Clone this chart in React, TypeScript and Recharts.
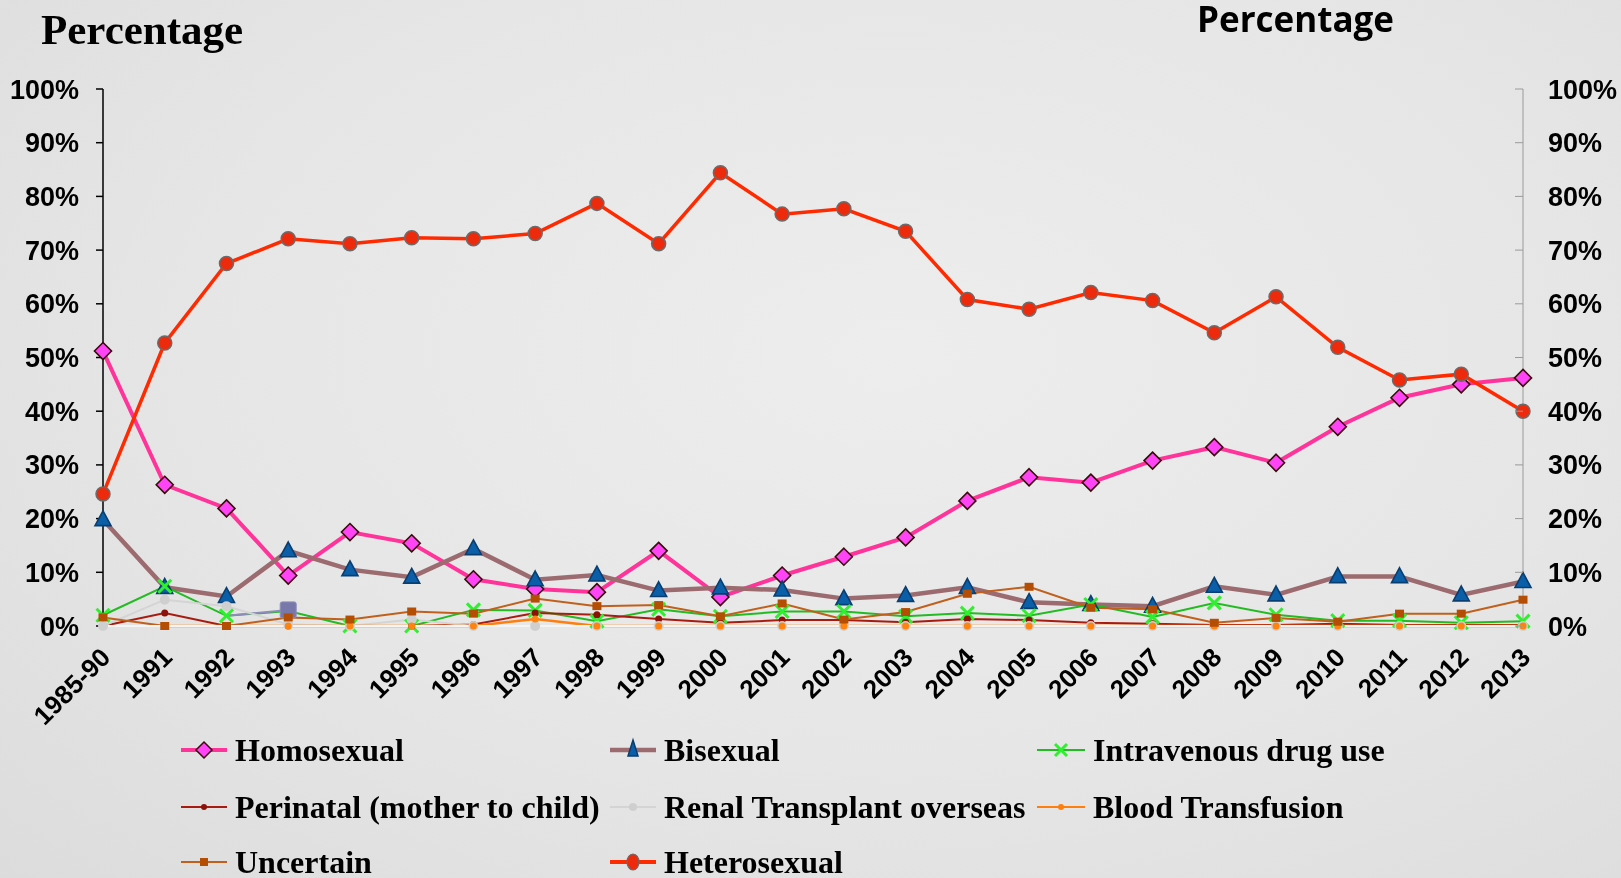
import React from 'react';
import { LineChart, Line, XAxis, YAxis } from 'recharts';

const categories = ['1985-90','1991','1992','1993','1994','1995','1996','1997','1998','1999','2000','2001','2002','2003','2004','2005','2006','2007','2008','2009','2010','2011','2012','2013'];
const homosexual = [51.2,26.3,21.9,9.4,17.5,15.4,8.7,6.9,6.3,14.0,5.4,9.4,12.9,16.5,23.3,27.7,26.7,30.8,33.3,30.4,37.1,42.5,45.0,46.2];
const bisexual = [19.8,7.2,5.5,14.0,10.5,9.1,14.4,8.6,9.5,6.6,7.1,6.7,5.1,5.7,7.2,4.4,4.0,3.7,7.4,5.8,9.2,9.2,5.8,8.3];
const ivDrug = [2.0,7.4,1.9,2.8,0,0,3.0,2.9,0.9,3.1,1.8,2.7,2.7,1.8,2.4,1.9,4.0,1.7,4.3,2.1,1.0,1.0,0.6,0.9];
const perinatal = [0,2.4,0,0,0,0,0.3,2.4,2.1,1.3,0.6,1.1,1.1,0.7,1.3,1.1,0.6,0.4,0.2,0.2,0.4,0.2,0.2,0.2];
const renal = [0,4.9,3.7,0.3,0,1.2,0,0,0,0,0,0,0,0,0,0,0,0,0,0,0,0,0,0];
const blood = [null,0,0,0,0,0,0,1.3,0,0,0,0,0,0,0,0,0,0,0,0,0,0,0,0];
const uncertain = [1.6,0,0,1.6,1.2,2.7,2.3,5.1,3.7,3.9,1.8,4.2,1.2,2.6,6.0,7.3,3.4,3.1,0.6,1.5,0.8,2.3,2.3,4.9];
const heterosexual = [24.6,52.7,67.5,72.1,71.2,72.3,72.1,73.1,78.7,71.2,84.4,76.7,77.7,73.5,60.8,59.0,62.1,60.6,54.6,61.3,51.9,45.8,46.9,40.0];
const otherSeries = [null,null,1.9,3.0,null,null,null,null,null,null,null,null,null,null,null,null,null,null,null,null,null,null,null,null];
const yTicks = [0,10,20,30,40,50,60,70,80,90,100];

const legendRows = [
  ['Homosexual','Bisexual','Intravenous drug use'],
  ['Perinatal (mother to child)','Renal Transplant overseas','Blood Transfusion'],
  ['Uncertain','Heterosexual'],
];

const data = categories.map((c, i) => ({
  cat: c,
  homosexual: homosexual[i],
  bisexual: bisexual[i],
  ivDrug: ivDrug[i],
  perinatal: perinatal[i],
  renal: renal[i],
  blood: blood[i],
  uncertain: uncertain[i],
  heterosexual: heterosexual[i],
  other: otherSeries[i],
}));

const ok = (p: any) => p.cx != null && p.cy != null && p.value != null && !Number.isNaN(p.cy);

const diamondShape = (cx: number, cy: number, s: number) => `${cx},${cy - s} ${cx + s},${cy} ${cx},${cy + s} ${cx - s},${cy}`;
const triShape = (cx: number, cy: number, s: number) => `${cx},${cy - s * 1.1} ${cx + s},${cy + s * 0.75} ${cx - s},${cy + s * 0.75}`;

const DiamondDot = (p: any) => ok(p) ? <polygon key={p.index} points={diamondShape(p.cx, p.cy, 8.5)} fill="#ff44f6" stroke="#3a0a0a" strokeWidth={1.6} /> : <g key={p.index} />;
const TriDot = (p: any) => ok(p) ? <polygon key={p.index} points={triShape(p.cx, p.cy, 8)} fill="#0b5fa8" stroke="#083e70" strokeWidth={1.6} /> : <g key={p.index} />;
const XDot = (p: any) => ok(p) ? (
  <g key={p.index}>
    <line x1={p.cx - 6.5} y1={p.cy - 6.5} x2={p.cx + 6.5} y2={p.cy + 6.5} stroke="#2ef02e" strokeWidth={3} />
    <line x1={p.cx - 6.5} y1={p.cy + 6.5} x2={p.cx + 6.5} y2={p.cy - 6.5} stroke="#2ef02e" strokeWidth={3} />
  </g>
) : <g key={p.index} />;
const SmallDot = (color: string, r: number) => (p: any) => ok(p) ? <circle key={p.index} cx={p.cx} cy={p.cy} r={r} fill={color} /> : <g key={p.index} />;
const SquareDot = (p: any) => ok(p) ? <rect key={p.index} x={p.cx - 4.5} y={p.cy - 4} width={9} height={8} fill="#b54e05" /> : <g key={p.index} />;
const HeteroDot = (p: any) => ok(p) ? <circle key={p.index} cx={p.cx} cy={p.cy} r={7} fill="#ee2a0c" stroke="#6b6b6b" strokeWidth={1.5} /> : <g key={p.index} />;
const OtherDot = (p: any) => (ok(p) && p.index === 3) ? <rect key={p.index} x={p.cx - 8} y={p.cy - 8} width={16} height={16} rx={2} fill="#7878aa" stroke="#8e8ebc" strokeWidth={1} /> : <g key={p.index} />;

const XTick = (p: any) => {
  const x = p.x + 9;
  const y = p.y + 33;
  return (
    <text x={x} y={y} transform={`rotate(-45, ${x}, ${y})`} textAnchor="end" fontFamily="'Liberation Sans', Arial, sans-serif" fontWeight="bold" fontSize={26} fill="#000">
      {p.payload.value}
    </text>
  );
};

const RightTick = (p: any) => (
  <g>
    <line x1={p.x - 33} y1={p.y} x2={p.x - 25} y2={p.y} stroke="#9a9a9a" strokeWidth={1} />
    <text x={p.x} y={p.y} dy="0.355em" textAnchor="start" fontFamily="'Liberation Sans', Arial, sans-serif" fontWeight="bold" fontSize={27} fill="#000">
      {p.payload.value}%
    </text>
  </g>
);

const legendMarkers: Record<string, (cx: number, cy: number) => React.ReactNode> = {
  'Homosexual': (cx, cy) => (<g><line x1={cx - 23} y1={cy} x2={cx + 23} y2={cy} stroke="#ff3399" strokeWidth={4} /><polygon points={diamondShape(cx, cy, 8)} fill="#ff44f6" stroke="#3a0a0a" strokeWidth={1.5} /></g>),
  'Bisexual': (cx, cy) => (<g><line x1={cx - 23} y1={cy} x2={cx + 23} y2={cy} stroke="#9c6b6f" strokeWidth={4.5} /><polygon points={`${cx},${cy - 10} ${cx + 5},${cy + 6} ${cx - 5},${cy + 6}`} fill="#0b5fa8" stroke="#083e70" strokeWidth={1.5} /></g>),
  'Intravenous drug use': (cx, cy) => (<g><line x1={cx - 24} y1={cy} x2={cx + 24} y2={cy} stroke="#22bb22" strokeWidth={2} /><line x1={cx - 6} y1={cy - 6} x2={cx + 6} y2={cy + 6} stroke="#2ef02e" strokeWidth={3} /><line x1={cx - 6} y1={cy + 6} x2={cx + 6} y2={cy - 6} stroke="#2ef02e" strokeWidth={3} /></g>),
  'Perinatal (mother to child)': (cx, cy) => (<g><line x1={cx - 23} y1={cy} x2={cx + 23} y2={cy} stroke="#a81c10" strokeWidth={2} /><circle cx={cx} cy={cy} r={3} fill="#8b1208" /></g>),
  'Renal Transplant overseas': (cx, cy) => (<g><line x1={cx - 23} y1={cy} x2={cx + 23} y2={cy} stroke="#d4d4d4" strokeWidth={2} /><circle cx={cx} cy={cy} r={4} fill="#cfcfcf" /></g>),
  'Blood Transfusion': (cx, cy) => (<g><line x1={cx - 24} y1={cy} x2={cx + 24} y2={cy} stroke="#ff7f0e" strokeWidth={2} /><circle cx={cx} cy={cy} r={3} fill="#ff7f0e" /></g>),
  'Uncertain': (cx, cy) => (<g><line x1={cx - 23} y1={cy} x2={cx + 23} y2={cy} stroke="#c0601c" strokeWidth={2} /><rect x={cx - 4} y={cy - 4} width={8} height={8} fill="#b54e05" /></g>),
  'Heterosexual': (cx, cy) => (<g><line x1={cx - 23} y1={cy} x2={cx + 23} y2={cy} stroke="#ff2a00" strokeWidth={4} /><ellipse cx={cx} cy={cy} rx={6} ry={8} fill="#ee2a0c" stroke="#6b6b6b" strokeWidth={1.2} /></g>),
};

const colMarkerX = [204, 633, 1061];
const colTextX = [235, 664, 1093];
const rowCenterY = [750, 807, 862];

export default function App() {
  return (
    <div style={{ position: 'fixed', left: 0, top: 0, width: 1621, height: 878, overflow: 'hidden', background: 'radial-gradient(ellipse at 55% 40%, #ededed 0%, #e6e6e6 55%, #dcdcdc 100%)' }}>
      <LineChart width={1621} height={878} data={data} margin={{ top: 89, right: 0, bottom: 0, left: 0 }}>
        <XAxis dataKey="cat" height={252} tickSize={0} tickMargin={0} interval={0} tick={<XTick />} axisLine={{ stroke: '#f4f4f4', strokeWidth: 2 }} tickLine={false} />
        <YAxis yAxisId="left" width={103} domain={[0, 100]} ticks={yTicks} tickFormatter={(v: number) => `${v}%`} tickSize={7} tickMargin={17} axisLine={{ stroke: '#000', strokeWidth: 1.5 }} tickLine={{ stroke: '#000', strokeWidth: 1.5 }} tick={{ fontFamily: "'Liberation Sans', Arial, sans-serif", fontWeight: 'bold', fontSize: 27, fill: '#000' }} interval={0} />
        <YAxis yAxisId="right" orientation="right" width={98} domain={[0, 100]} ticks={yTicks} tickSize={0} tickMargin={25} axisLine={{ stroke: '#9a9a9a', strokeWidth: 1 }} tickLine={false} tick={<RightTick />} interval={0} />
        <Line yAxisId="right" dataKey="heterosexual" stroke="none" strokeWidth={0} dot={false} activeDot={false} legendType="none" isAnimationActive={false} />
        <Line yAxisId="left" dataKey="homosexual" stroke="#ff3399" strokeWidth={4} dot={DiamondDot} isAnimationActive={false} />
        <Line yAxisId="left" dataKey="bisexual" stroke="#9c6b6f" strokeWidth={4.5} dot={TriDot} isAnimationActive={false} />
        <Line yAxisId="left" dataKey="ivDrug" stroke="#22bb22" strokeWidth={2} dot={XDot} isAnimationActive={false} />
        <Line yAxisId="left" dataKey="other" stroke="#8d8dbb" strokeWidth={2} dot={OtherDot} isAnimationActive={false} />
        <Line yAxisId="left" dataKey="perinatal" stroke="#a81c10" strokeWidth={2} dot={SmallDot('#8b1208', 3.5)} isAnimationActive={false} />
        <Line yAxisId="left" dataKey="renal" stroke="#d4d4d4" strokeWidth={2} dot={SmallDot('#cfcfcf', 5)} isAnimationActive={false} />
        <Line yAxisId="left" dataKey="blood" stroke="#ff7f0e" strokeWidth={2.5} dot={SmallDot('#ff840f', 3.5)} isAnimationActive={false} />
        <Line yAxisId="left" dataKey="uncertain" stroke="#c0601c" strokeWidth={2} dot={SquareDot} isAnimationActive={false} />
        <Line yAxisId="left" dataKey="heterosexual" stroke="#ff2a00" strokeWidth={3.5} dot={HeteroDot} isAnimationActive={false} />
      </LineChart>
      <svg width={1621} height={878} style={{ position: 'absolute', left: 0, top: 0, pointerEvents: 'none' }}>
        <text x={41} y={44} fontFamily="'Liberation Serif', 'Times New Roman', serif" fontWeight="bold" fontSize={43} fill="#000">Percentage</text>
        <text x={1197} y={32} fontFamily="'Open Sans', sans-serif" fontWeight="bold" fontSize={35} fill="#000">Percentage</text>
        {legendRows.map((row, r) => row.map((name, c) => (
          <g key={name}>
            {legendMarkers[name](colMarkerX[c], rowCenterY[r])}
            <text x={colTextX[c]} y={rowCenterY[r] + 11} fontFamily="'Liberation Serif', 'Times New Roman', serif" fontWeight="bold" fontSize={32} fill="#000">{name}</text>
          </g>
        )))}
      </svg>
    </div>
  );
}
